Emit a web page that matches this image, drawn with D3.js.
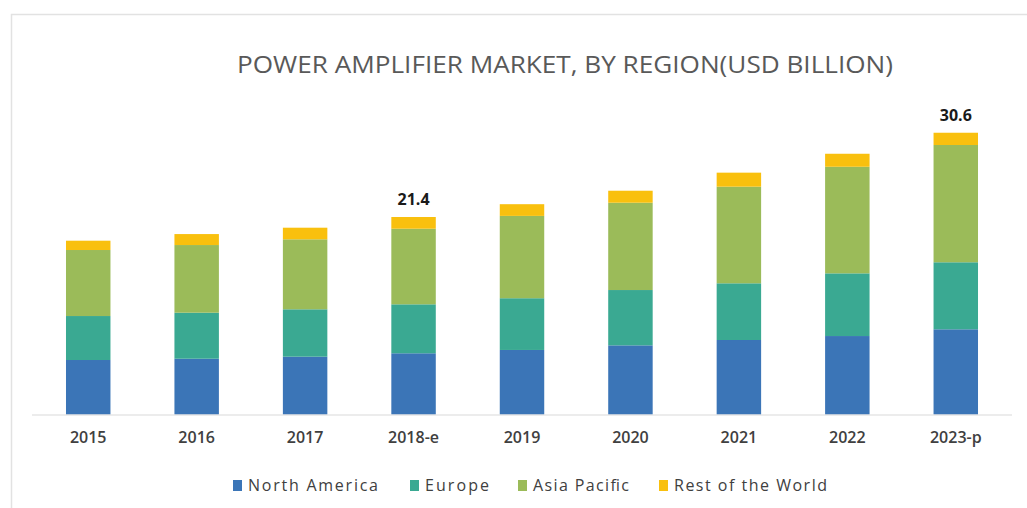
<!DOCTYPE html>
<html><head><meta charset="utf-8">
<script src="https://cdn.jsdelivr.net/npm/d3@7"></script>
<style>body{margin:0;background:#fff}svg{display:block}</style>
</head><body>
<svg id="c" width="1027" height="508"></svg>
<script>
const categories = ["2015","2016","2017","2018-e","2019","2020","2021","2022","2023-p"];
const seriesNames = ["North America","Europe","Asia Pacific","Rest of the World"];
const northAmerica = [5.91,6.05,6.27,6.64,7.00,7.50,8.08,8.51,9.24];
const europe       = [4.77,4.99,5.14,5.31,5.61,6.00,6.15,6.80,7.27];
const asiaPacific  = [7.16,7.34,7.59,8.20,8.93,9.47,10.48,11.56,12.72];
const restOfWorld  = [1.01,1.19,1.26,1.27,1.27,1.30,1.52,1.41,1.33];
const totalLabels = {"2018-e":"21.4","2023-p":"30.6"};
const colors = ["#3b75b7","#3aa992","#9bbb59","#f9c00e"];

const svg = d3.select("#c");

// frame
svg.append("path").attr("d","M11.5,508 L11.5,14.5 L1027,14.5")
  .attr("fill","none").attr("stroke","#e2e2e2").attr("stroke-width",1.5);

// title
svg.append("text").attr("x",565).attr("y",73).attr("text-anchor","middle")
  .attr("font-family","Open Sans, sans-serif").attr("font-size",23)
  .attr("fill","#595959").attr("textLength",656).attr("lengthAdjust","spacingAndGlyphs")
  .text("POWER AMPLIFIER MARKET, BY REGION(USD BILLION)");

const x = d3.scaleBand().domain(categories).range([34,1010]).paddingInner(0.59).paddingOuter(0.295);
const y = d3.scaleLinear().domain([0,40]).range([414.5,414.5-40*9.22]);

const rows = categories.map((c,i)=>({cat:c,
  "North America":northAmerica[i],"Europe":europe[i],"Asia Pacific":asiaPacific[i],"Rest of the World":restOfWorld[i]}));
const stack = d3.stack().keys(seriesNames)(rows);

svg.append("g").selectAll("g").data(stack).join("g")
  .attr("fill",(d,i)=>colors[i])
  .selectAll("rect").data(d=>d).join("rect")
  .attr("x",d=>x(d.data.cat)).attr("width",x.bandwidth())
  .attr("y",d=>y(d[1])).attr("height",d=>y(d[0])-y(d[1]));

// axis
const ax = svg.append("g").attr("transform",`translate(0,${y(0)})`)
  .call(d3.axisBottom(x).tickSize(0).tickPadding(17).tickSizeOuter(0));
ax.select(".domain").attr("stroke","#d9d9d9").attr("stroke-width",1.2)
  .attr("d","M32,0.5H1012");
ax.selectAll("text").attr("font-family","Open Sans, sans-serif").attr("font-size",16)
  .attr("fill","#404040").attr("font-weight","600");

// total labels
const last = stack[stack.length-1];
svg.append("g").selectAll("text").data(last.filter(d=>totalLabels[d.data.cat])).join("text")
  .attr("x",d=>x(d.data.cat)+x.bandwidth()/2).attr("y",d=>y(d[1])-12)
  .attr("text-anchor","middle").attr("font-family","Open Sans, sans-serif")
  .attr("font-size",16).attr("font-weight","bold").attr("fill","#1a1a1a")
  .text(d=>totalLabels[d.data.cat]);

// legend
const lg = svg.append("g").attr("transform","translate(0,485)");
const itemX = [233,410,518,659];
const textW = [130,64,96,153];
seriesNames.forEach((s,i)=>{
  const g = lg.append("g").attr("transform",`translate(${itemX[i]},0)`);
  g.append("rect").attr("x",0).attr("y",-5).attr("width",9).attr("height",11).attr("fill",colors[i]);
  g.append("text").attr("x",15).attr("y",6).attr("font-family","Open Sans, sans-serif")
    .attr("font-size",16).attr("fill","#404040")
    .attr("textLength",textW[i]).attr("lengthAdjust","spacing").text(s);
});
</script>
</body></html>
